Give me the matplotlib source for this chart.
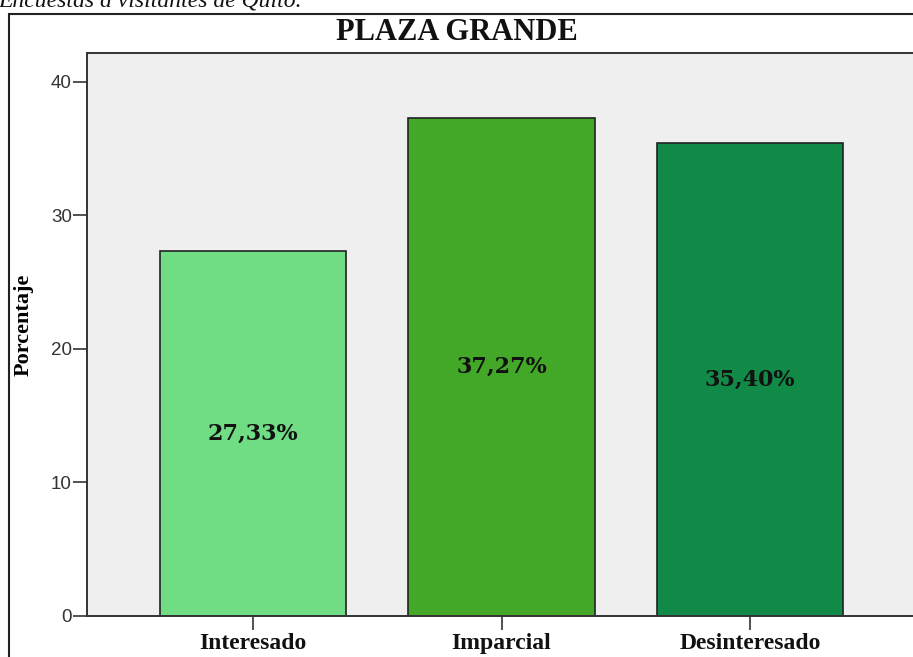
import matplotlib
matplotlib.use("Agg")
import matplotlib.pyplot as plt
from matplotlib.patches import Rectangle

categories = ["Interesado", "Imparcial", "Desinteresado"]
percentages = [27.33, 37.27, 35.40]
bar_colors = ["#70dc84", "#43a828", "#128a47"]
y_ticks = [0, 10, 20, 30, 40]

W, H = 913, 657
fig = plt.figure(figsize=(W / 100, H / 100), dpi=100)

# outer chart frame (runs off the right and bottom edges in the source)
fig.patches.append(Rectangle((9 / W, -0.1), 1.2, 1.1 - 14 / H, transform=fig.transFigure,
                             fill=False, lw=1.5, ec="#222222"))

# caption cut off at the top of the picture
fig.text(-2 / W, 1 - 7 / H, "Encuestas a visitantes de Quito.", family="Liberation Serif",
         style="italic", fontsize=17, ha="left", va="baseline", color="#111111")

fig.text(457 / W, 1 - 40 / H, "PLAZA GRANDE", family="Liberation Serif", weight="bold",
         fontsize=22, ha="center", va="baseline", color="#111111")

ax = fig.add_axes([87 / W, 41 / H, 829 / W, 563 / H])
ax.set_facecolor("#efefef")
x = range(len(categories))
ax.bar(x, percentages, width=0.75, color=bar_colors, edgecolor="#222222", linewidth=1.2, zorder=2)

for i, v in enumerate(percentages):
    ax.text(i, v / 2, f"{v:.2f}".replace(".", ",") + "%", family="DejaVu Serif", weight="bold",
            fontsize=16, ha="center", va="center", color="#111111", zorder=3)

ax.set_xlim(-0.668, 2.668)
ax.set_ylim(0, 42.17)
ax.set_yticks(y_ticks)
ax.set_yticklabels([str(t) for t in y_ticks], family="Liberation Sans", fontsize=13.5, color="#333333")
ax.set_xticks(list(x))
ax.set_xticklabels(categories, family="Liberation Serif", weight="bold", fontsize=17, color="#111111")
ax.tick_params(axis="y", length=10, width=1.2, color="#333333", pad=1)
ax.tick_params(axis="x", length=10, width=1.2, color="#333333", pad=2)
ax.set_ylabel("Porcentaje", family="Liberation Serif", weight="bold", fontsize=16)
ax.yaxis.set_label_coords(-0.064, 0.517)

for side in ["left", "bottom", "top"]:
    ax.spines[side].set_color("#333333")
    ax.spines[side].set_linewidth(1.4)
ax.spines["right"].set_visible(False)

fig.savefig("out.png", dpi=100)
